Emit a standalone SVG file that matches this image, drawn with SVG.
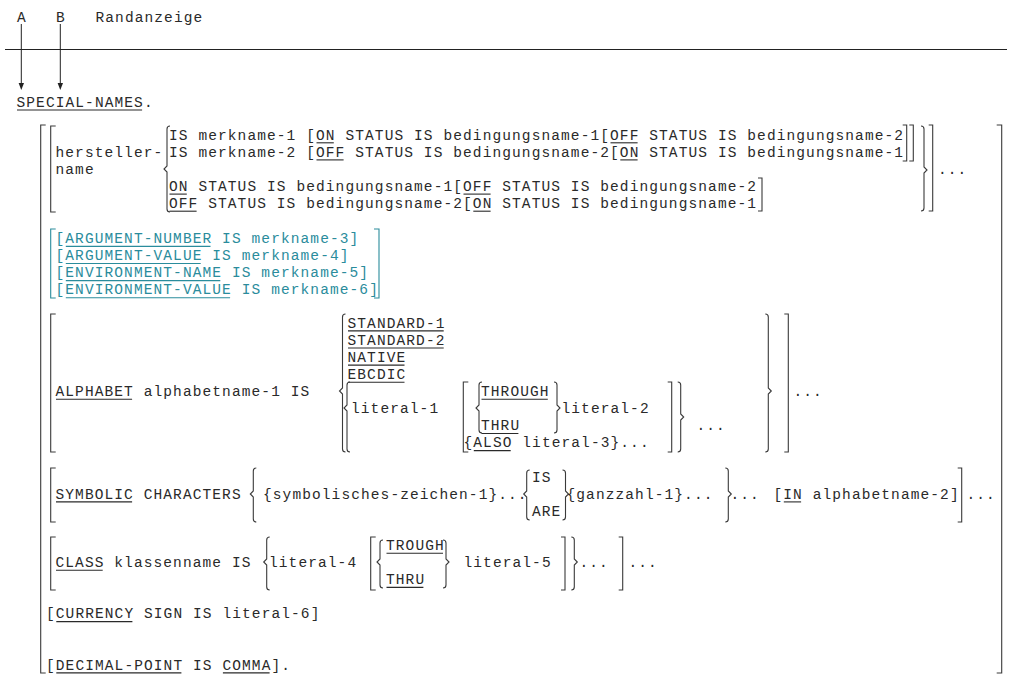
<svg xmlns="http://www.w3.org/2000/svg" width="1010" height="678" viewBox="0 0 1010 678">
<style>
.t{font-family:"Liberation Mono","DejaVu Sans Mono",monospace;font-size:14.5px;letter-spacing:1.1px;fill:#2a2a2a}
.c{fill:#2a8c9c}
.b{fill:none;stroke:#3a3a3a;stroke-width:1.1}
.bc{stroke:#2a8c9c}
.u{stroke:#2a2a2a;stroke-width:1.1}
.uc{stroke:#2a8c9c}
.ln{stroke:#222;stroke-width:1}
</style>
<rect width="1010" height="678" fill="#fff"/>

<g id="header">
<text class="t" x="17" y="21.5">A</text>
<text class="t" x="56" y="21.5">B</text>
<text class="t" x="95.5" y="21.5">Randanzeige</text>
<line class="ln" x1="5" y1="49.5" x2="1007" y2="49.5"/>
</g>

<g id="connectors">
<line class="ln" x1="21.3" y1="24" x2="21.3" y2="84"/>
<polygon points="18.6,83 24,83 21.3,90" fill="#222"/>
<line class="ln" x1="60.3" y1="24" x2="60.3" y2="84"/>
<polygon points="57.6,83 63,83 60.3,90" fill="#222"/>
</g>

<g id="special-names">
<text class="t" x="16.5" y="106.5">SPECIAL-NAMES.</text>
<line class="u" x1="17" y1="110" x2="142.1" y2="110"/>
</g>

<g id="outer-brackets">
<path class="b" d="M45.7,125 H40.7 V673 H45.7"/>
<path class="b" d="M996.7,125 H1001.7 V673 H996.7"/>
</g>

<g id="hersteller">
<path class="b" d="M55.7,126 H50.7 V212 H55.7"/>
<path class="b" d="M170,126 Q167,126 167,129 L167,166 L164,169 L167,172 L167,209 Q167,212 170,212"/>
<text class="t" x="55.5" y="156.6">hersteller-</text>
<text class="t" x="55.5" y="173.7">name</text>
<text class="t" x="169" y="139.5">IS merkname-1 [ON STATUS IS bedingungsname-1[OFF STATUS IS bedingungsname-2</text>
<text class="t" x="169" y="156.6">IS merkname-2 [OFF STATUS IS bedingungsname-2[ON STATUS IS bedingungsname-1</text>
<text class="t" x="169" y="190.8">ON STATUS IS bedingungsname-1[OFF STATUS IS bedingungsname-2</text>
<text class="t" x="169" y="207.9">OFF STATUS IS bedingungsname-2[ON STATUS IS bedingungsname-1</text>
<line class="u" x1="316.5" y1="142.8" x2="333.8" y2="142.8"/>
<line class="u" x1="610.5" y1="142.8" x2="637.6" y2="142.8"/>
<line class="u" x1="316.5" y1="159.9" x2="343.6" y2="159.9"/>
<line class="u" x1="620.3" y1="159.9" x2="637.6" y2="159.9"/>
<line class="u" x1="169.5" y1="194.1" x2="186.8" y2="194.1"/>
<line class="u" x1="463.5" y1="194.1" x2="490.6" y2="194.1"/>
<line class="u" x1="169.5" y1="211.2" x2="196.6" y2="211.2"/>
<line class="u" x1="473.3" y1="211.2" x2="490.6" y2="211.2"/>
<path class="b" d="M902.7,125 H906.7 V161 H902.7"/>
<path class="b" d="M909.3,125 H913.3 V161 H909.3"/>
<path class="b" d="M758,178 H762 V211 H758"/>
<path class="b" d="M921,126 Q924,126 924,129 L924,167 L927,170 L924,173 L924,208 Q924,211 921,211"/>
<path class="b" d="M928.7,125 H932.7 V211 H928.7"/>
<text class="t" x="938" y="173.7">...</text>
</g>

<g id="argument">
<path class="b bc" d="M55.7,229 H50.7 V298 H55.7"/>
<path class="b bc" d="M374,229 H379 V298 H374"/>
<text class="t c" x="55.5" y="243.1">[ARGUMENT-NUMBER IS merkname-3]</text>
<text class="t c" x="55.5" y="260.2">[ARGUMENT-VALUE IS merkname-4]</text>
<text class="t c" x="55.5" y="277.3">[ENVIRONMENT-NAME IS merkname-5]</text>
<text class="t c" x="55.5" y="294.4">[ENVIRONMENT-VALUE IS merkname-6]</text>
<line class="u uc" x1="65.8" y1="246.4" x2="210.5" y2="246.4"/>
<line class="u uc" x1="65.8" y1="263.5" x2="200.7" y2="263.5"/>
<line class="u uc" x1="65.8" y1="280.6" x2="220.3" y2="280.6"/>
<line class="u uc" x1="65.8" y1="297.7" x2="230.1" y2="297.7"/>
</g>

<g id="alphabet">
<path class="b" d="M55.7,314 H50.7 V452 H55.7"/>
<text class="t" x="55.5" y="396">ALPHABET alphabetname-1 IS</text>
<line class="u" x1="56" y1="399.3" x2="132.1" y2="399.3"/>
<path class="b" d="M345.5,314 Q342.5,314 342.5,317 L342.5,388 L339.5,391 L342.5,394 L342.5,449 Q342.5,452 345.5,452"/>
<text class="t" x="347.5" y="327.6">STANDARD-1</text>
<text class="t" x="347.5" y="344.7">STANDARD-2</text>
<text class="t" x="347.5" y="361.8">NATIVE</text>
<text class="t" x="347.5" y="378.9">EBCDIC</text>
<line class="u" x1="348" y1="330.9" x2="443.7" y2="330.9"/>
<line class="u" x1="348" y1="348" x2="443.7" y2="348"/>
<line class="u" x1="348" y1="365.1" x2="404.5" y2="365.1"/>
<line class="u" x1="348" y1="382.2" x2="404.5" y2="382.2"/>
<path class="b" d="M350,382 Q347,382 347,385 L347,405 L344,408 L347,411 L347,449 Q347,452 350,452"/>
<text class="t" x="351" y="413.1">literal-1</text>
<path class="b" d="M468.3,382 H463.3 V452 H468.3"/>
<path class="b" d="M482,382 Q479,382 479,385 L479,405 L476,408 L479,411 L479,430 Q479,433 482,433"/>
<text class="t" x="481" y="396">THROUGH</text>
<text class="t" x="481" y="430.2">THRU</text>
<line class="u" x1="481.5" y1="399.3" x2="547.8" y2="399.3"/>
<line class="u" x1="481.5" y1="433.5" x2="518.4" y2="433.5"/>
<path class="b" d="M554,382 Q557,382 557,385 L557,405 L560,408 L557,411 L557,430 Q557,433 554,433"/>
<text class="t" x="561.5" y="413.1">literal-2</text>
<text class="t" x="463.5" y="447.3">{ALSO literal-3}...</text>
<line class="u" x1="473.8" y1="450.6" x2="510.7" y2="450.6"/>
<path class="b" d="M667.7,382 H671.7 V452 H667.7"/>
<path class="b" d="M677.7,382 Q680.7,382 680.7,385 L680.7,414 L683.7,417 L680.7,420 L680.7,449 Q680.7,452 677.7,452"/>
<text class="t" x="696.5" y="430.2">...</text>
<path class="b" d="M765.3,314 Q768.3,314 768.3,317 L768.3,388 L771.3,391 L768.3,394 L768.3,449 Q768.3,452 765.3,452"/>
<path class="b" d="M784.3,314 H788.3 V452 H784.3"/>
<text class="t" x="793.5" y="396">...</text>
</g>

<g id="symbolic">
<path class="b" d="M55.7,468 H50.7 V522 H55.7"/>
<text class="t" x="55.5" y="498.6">SYMBOLIC CHARACTERS</text>
<line class="u" x1="56" y1="501.9" x2="132.1" y2="501.9"/>
<path class="b" d="M256.3,468 Q253.3,468 253.3,471 L253.3,491 L250.3,494 L253.3,497 L253.3,519 Q253.3,522 256.3,522"/>
<text class="t" x="263" y="498.6">{symbolisches-zeichen-1}...</text>
<path class="b" d="M529.7,470 Q526.7,470 526.7,473 L526.7,491 L523.7,494 L526.7,497 L526.7,517 Q526.7,520 529.7,520"/>
<text class="t" x="532" y="481.5">IS</text>
<text class="t" x="532" y="515.7">ARE</text>
<path class="b" d="M562.5,470 Q565.5,470 565.5,473 L565.5,491 L568.5,494 L565.5,497 L565.5,517 Q565.5,520 562.5,520"/>
<text class="t" x="566.5" y="498.6">{ganzzahl-1}...</text>
<path class="b" d="M725.3,468 Q728.3,468 728.3,471 L728.3,491 L731.3,494 L728.3,497 L728.3,519 Q728.3,522 725.3,522"/>
<text class="t" x="730.5" y="498.6">...</text>
<text class="t" x="773.5" y="498.6">[IN alphabetname-2]</text>
<line class="u" x1="783.8" y1="501.9" x2="801.1" y2="501.9"/>
<path class="b" d="M957.7,468 H961.7 V522 H957.7"/>
<text class="t" x="966.5" y="498.6">...</text>
</g>

<g id="class">
<path class="b" d="M55.7,537 H50.7 V590 H55.7"/>
<text class="t" x="55.5" y="567">CLASS klassenname IS</text>
<line class="u" x1="56" y1="570.3" x2="102.7" y2="570.3"/>
<path class="b" d="M269.7,537 Q266.7,537 266.7,540 L266.7,559 L263.7,562 L266.7,565 L266.7,587 Q266.7,590 269.7,590"/>
<text class="t" x="269" y="567">literal-4</text>
<path class="b" d="M375.7,537 H370.7 V590 H375.7"/>
<path class="b" d="M383,540 Q380,540 380,543 L380,559 L377,562 L380,565 L380,585 Q380,588 383,588"/>
<text class="t" x="386" y="549.9">TROUGH</text>
<text class="t" x="386" y="584.1">THRU</text>
<line class="u" x1="386.5" y1="553.2" x2="443" y2="553.2"/>
<line class="u" x1="386.5" y1="587.4" x2="423.4" y2="587.4"/>
<path class="b" d="M443,540 Q446,540 446,543 L446,559 L449,562 L446,565 L446,585 Q446,588 443,588"/>
<text class="t" x="463.5" y="567">literal-5</text>
<path class="b" d="M561,537 H565 V590 H561"/>
<path class="b" d="M571.3,537 Q574.3,537 574.3,540 L574.3,559 L577.3,562 L574.3,565 L574.3,587 Q574.3,590 571.3,590"/>
<text class="t" x="579.5" y="567">...</text>
<path class="b" d="M618.7,537 H622.7 V590 H618.7"/>
<text class="t" x="628.5" y="567">...</text>
</g>

<g id="currency">
<text class="t" x="46" y="618.3">[CURRENCY SIGN IS literal-6]</text>
<line class="u" x1="56.3" y1="621.6" x2="132.4" y2="621.6"/>
</g>

<g id="decimal-point">
<text class="t" x="46" y="669.6">[DECIMAL-POINT IS COMMA].</text>
<line class="u" x1="56.3" y1="672.9" x2="181.4" y2="672.9"/>
<line class="u" x1="222.9" y1="672.9" x2="269.6" y2="672.9"/>
</g>
</svg>
